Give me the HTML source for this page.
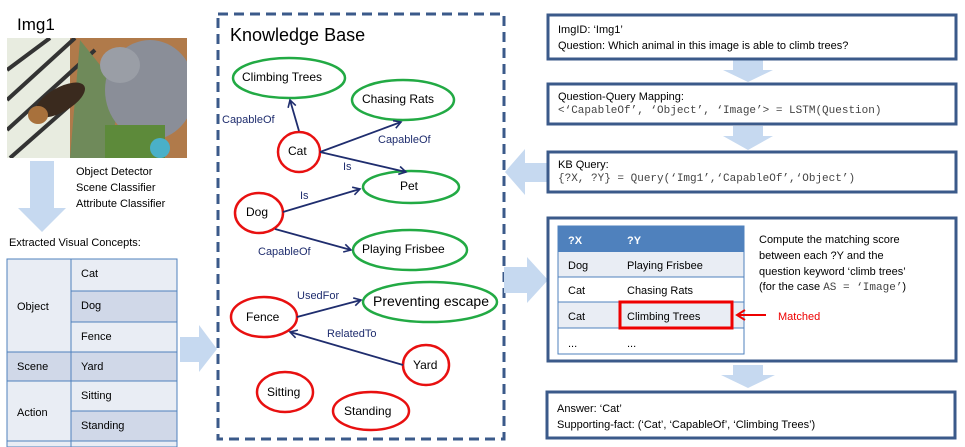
<!DOCTYPE html>
<html><head><meta charset="utf-8"><style>
html,body{margin:0;padding:0;background:#fff;width:965px;height:447px;overflow:hidden}
svg{display:block}
text{font-family:"Liberation Sans",sans-serif;font-size:11px;fill:#000}
.m{font-family:"Liberation Mono",monospace;font-size:11px;fill:#444}
.e{fill:#1f2d6e;font-size:11px}
.n{font-size:12px}
</style></head><body>
<svg width="965" height="447" viewBox="0 0 965 447" xmlns="http://www.w3.org/2000/svg">
<defs>
<marker id="ah" markerWidth="10" markerHeight="10" refX="8" refY="5" orient="auto" markerUnits="userSpaceOnUse"><path d="M1,1 L8,5 L1,9" fill="none" stroke="#1f2d6e" stroke-width="1.6"/></marker>
<marker id="rh" markerWidth="12" markerHeight="12" refX="9" refY="6" orient="auto" markerUnits="userSpaceOnUse"><path d="M1,1 L9,6 L1,11" fill="none" stroke="#e00" stroke-width="2"/></marker>
<clipPath id="pc"><rect x="7" y="38" width="180" height="120"/></clipPath>
</defs>
<!-- Left -->
<text x="17" y="30" style="font-size:17px">Img1</text>
<g clip-path="url(#pc)">
<rect x="7" y="38" width="180" height="120" fill="#e8ece0"/>
<rect x="70" y="38" width="117" height="120" fill="#b07a4a"/>
<g stroke="#333" stroke-width="4">
<line x1="7" y1="70" x2="50" y2="38"/><line x1="7" y1="100" x2="75" y2="38"/><line x1="7" y1="130" x2="95" y2="50"/><line x1="10" y1="158" x2="110" y2="70"/>
</g>
<polygon points="80,40 120,90 110,158 70,158" fill="#6f8a5a"/>
<ellipse cx="150" cy="90" rx="45" ry="50" fill="#8a8e98"/>
<ellipse cx="120" cy="65" rx="20" ry="18" fill="#9a9ea6"/>
<ellipse cx="60" cy="100" rx="28" ry="12" fill="#3a2a1e" transform="rotate(-30 60 100)"/>
<ellipse cx="38" cy="115" rx="10" ry="9" fill="#a8713c"/>
<rect x="105" y="125" width="60" height="33" fill="#5d8a3a"/>
<circle cx="160" cy="148" r="10" fill="#4ab0c8"/>
</g>
<polygon points="30,161 54,161 54,208 66,208 42,232 18,208 30,208" fill="#c6d9f0"/>
<text x="76" y="175">Object Detector</text>
<text x="76" y="191">Scene Classifier</text>
<text x="76" y="207">Attribute Classifier</text>
<text x="9" y="246">Extracted Visual Concepts:</text>
<g stroke="#4f81bd" stroke-width="1">
<rect x="7" y="259" width="170" height="188" fill="#e9edf4"/>
<rect x="71" y="291" width="106" height="31" fill="#d0d8e8"/>
<rect x="7" y="352" width="170" height="29" fill="#d0d8e8"/>
<rect x="71" y="411" width="106" height="30" fill="#d0d8e8"/>
<line x1="71" y1="259" x2="71" y2="447"/>
<line x1="71" y1="291" x2="177" y2="291"/><line x1="71" y1="322" x2="177" y2="322"/>
<line x1="71" y1="411" x2="177" y2="411"/><line x1="7" y1="441" x2="177" y2="441"/>
</g>
<text x="81" y="277">Cat</text><text x="81" y="309">Dog</text><text x="81" y="340">Fence</text>
<text x="81" y="370">Yard</text><text x="81" y="399">Sitting</text><text x="81" y="429">Standing</text>
<text x="17" y="310">Object</text><text x="17" y="370">Scene</text><text x="17" y="416">Action</text>
<polygon points="180,337 199,337 199,325 217,349 199,372 199,362 180,362" fill="#c6d9f0"/>
<!-- KB -->
<rect x="218" y="14" width="286" height="425" fill="none" stroke="#3b5a8a" stroke-width="3" stroke-dasharray="10,6"/>
<text x="230" y="41" style="font-size:18px">Knowledge Base</text>
<g fill="none" stroke-width="2.5">
<g stroke="#22aa44">
<ellipse cx="289" cy="78" rx="56" ry="20"/><ellipse cx="403" cy="100" rx="51" ry="20"/>
<ellipse cx="411" cy="187" rx="48" ry="16"/><ellipse cx="410" cy="250" rx="57" ry="20"/>
<ellipse cx="430" cy="302" rx="67" ry="20"/>
</g>
<g stroke="#e81010">
<ellipse cx="299" cy="152" rx="21" ry="20"/><ellipse cx="259" cy="213" rx="24" ry="20"/>
<ellipse cx="264" cy="317" rx="33" ry="20"/><ellipse cx="426" cy="365" rx="23" ry="20"/>
<ellipse cx="285" cy="392" rx="28" ry="20"/><ellipse cx="371" cy="411" rx="38" ry="19"/>
</g>
</g>
<g stroke="#1f2d6e" stroke-width="1.8" marker-end="url(#ah)">
<line x1="299" y1="131" x2="290" y2="100"/>
<line x1="320" y1="152" x2="401" y2="122"/>
<line x1="320" y1="152" x2="406" y2="172"/>
<line x1="283" y1="212" x2="360" y2="189"/>
<line x1="275" y1="229" x2="351" y2="250"/>
<line x1="297" y1="317" x2="361" y2="300"/>
<line x1="403" y1="365" x2="290" y2="332"/>
</g>
<text class="e" x="222" y="123">CapableOf</text><text class="e" x="378" y="143">CapableOf</text>
<text class="e" x="343" y="170">Is</text><text class="e" x="300" y="199">Is</text>
<text class="e" x="258" y="255">CapableOf</text><text class="e" x="297" y="299">UsedFor</text>
<text class="e" x="327" y="337">RelatedTo</text>
<text class="n" x="242" y="81">Climbing Trees</text><text class="n" x="362" y="103">Chasing Rats</text>
<text class="n" x="288" y="155">Cat</text><text class="n" x="400" y="190">Pet</text>
<text class="n" x="246" y="216">Dog</text><text class="n" x="362" y="253">Playing Frisbee</text>
<text x="373" y="306" style="font-size:14px" textLength="116">Preventing escape</text>
<text class="n" x="246" y="321">Fence</text><text class="n" x="413" y="369">Yard</text>
<text class="n" x="267" y="396">Sitting</text><text class="n" x="344" y="415">Standing</text>
<!-- Right -->
<g fill="#c6d9f0">
<polygon points="733,60 763,60 763,70 773,70 748,82 723,70 733,70"/>
<polygon points="733,126 763,126 763,136 773,136 748,150 723,136 733,136"/>
<polygon points="548,163 525,163 525,149 505,172 525,195 525,182 548,182"/>
<polygon points="504,267 527,267 527,257 548,280 527,303 527,293 504,293"/>
<polygon points="733,365 763,365 763,375 775,375 748,388 721,375 733,375"/>
</g>
<g fill="none" stroke="#3b5a8a" stroke-width="3">
<rect x="548" y="15" width="408" height="44"/>
<rect x="548" y="84" width="408" height="40"/>
<rect x="548" y="152" width="408" height="40"/>
<rect x="548" y="218" width="408" height="143"/>
<rect x="547" y="392" width="408" height="46"/>
</g>
<text x="558" y="33">ImgID: ‘Img1’</text>
<text x="558" y="49">Question: Which animal in this image is able to climb trees?</text>
<text x="558" y="100">Question-Query Mapping:</text>
<text class="m" x="558" y="113">&lt;‘CapableOf’, ‘Object’, ‘Image’&gt; = LSTM(Question)</text>
<text x="558" y="168">KB Query:</text>
<text class="m" x="558" y="181">{?X, ?Y} = Query(‘Img1’,‘CapableOf’,‘Object’)</text>
<rect x="558" y="226" width="186" height="26" fill="#4f81bd"/>
<rect x="558" y="252" width="186" height="25" fill="#e9edf4"/>
<rect x="558" y="302" width="186" height="26" fill="#e9edf4"/>
<g stroke="#4f81bd" stroke-width="1" fill="none">
<rect x="558" y="226" width="186" height="128"/>
<line x1="558" y1="277" x2="744" y2="277"/><line x1="558" y1="302" x2="744" y2="302"/><line x1="558" y1="328" x2="744" y2="328"/>
</g>
<text x="568" y="244" style="fill:#fff;font-weight:bold">?X</text><text x="627" y="244" style="fill:#fff;font-weight:bold">?Y</text>
<text x="568" y="269">Dog</text><text x="627" y="269">Playing Frisbee</text>
<text x="568" y="294">Cat</text><text x="627" y="294">Chasing Rats</text>
<text x="568" y="320">Cat</text><text x="627" y="320">Climbing Trees</text>
<text x="568" y="347">...</text><text x="627" y="347">...</text>
<rect x="620" y="302" width="112" height="26" fill="none" stroke="#e00" stroke-width="3"/>
<line x1="766" y1="315" x2="737" y2="315" stroke="#e00" stroke-width="2" marker-end="url(#rh)"/>
<text x="778" y="320" style="fill:#e00">Matched</text>
<text x="759" y="243">Compute the matching score</text>
<text x="759" y="259">between each ?Y and the</text>
<text x="759" y="275">question keyword ‘climb trees’</text>
<text x="759" y="290">(for the case <tspan class="m">AS = ‘Image’</tspan>)</text>
<text x="557" y="412">Answer: ‘Cat’</text>
<text x="557" y="428">Supporting-fact: (‘Cat’, ‘CapableOf’, ‘Climbing Trees’)</text>
</svg>
</body></html>
